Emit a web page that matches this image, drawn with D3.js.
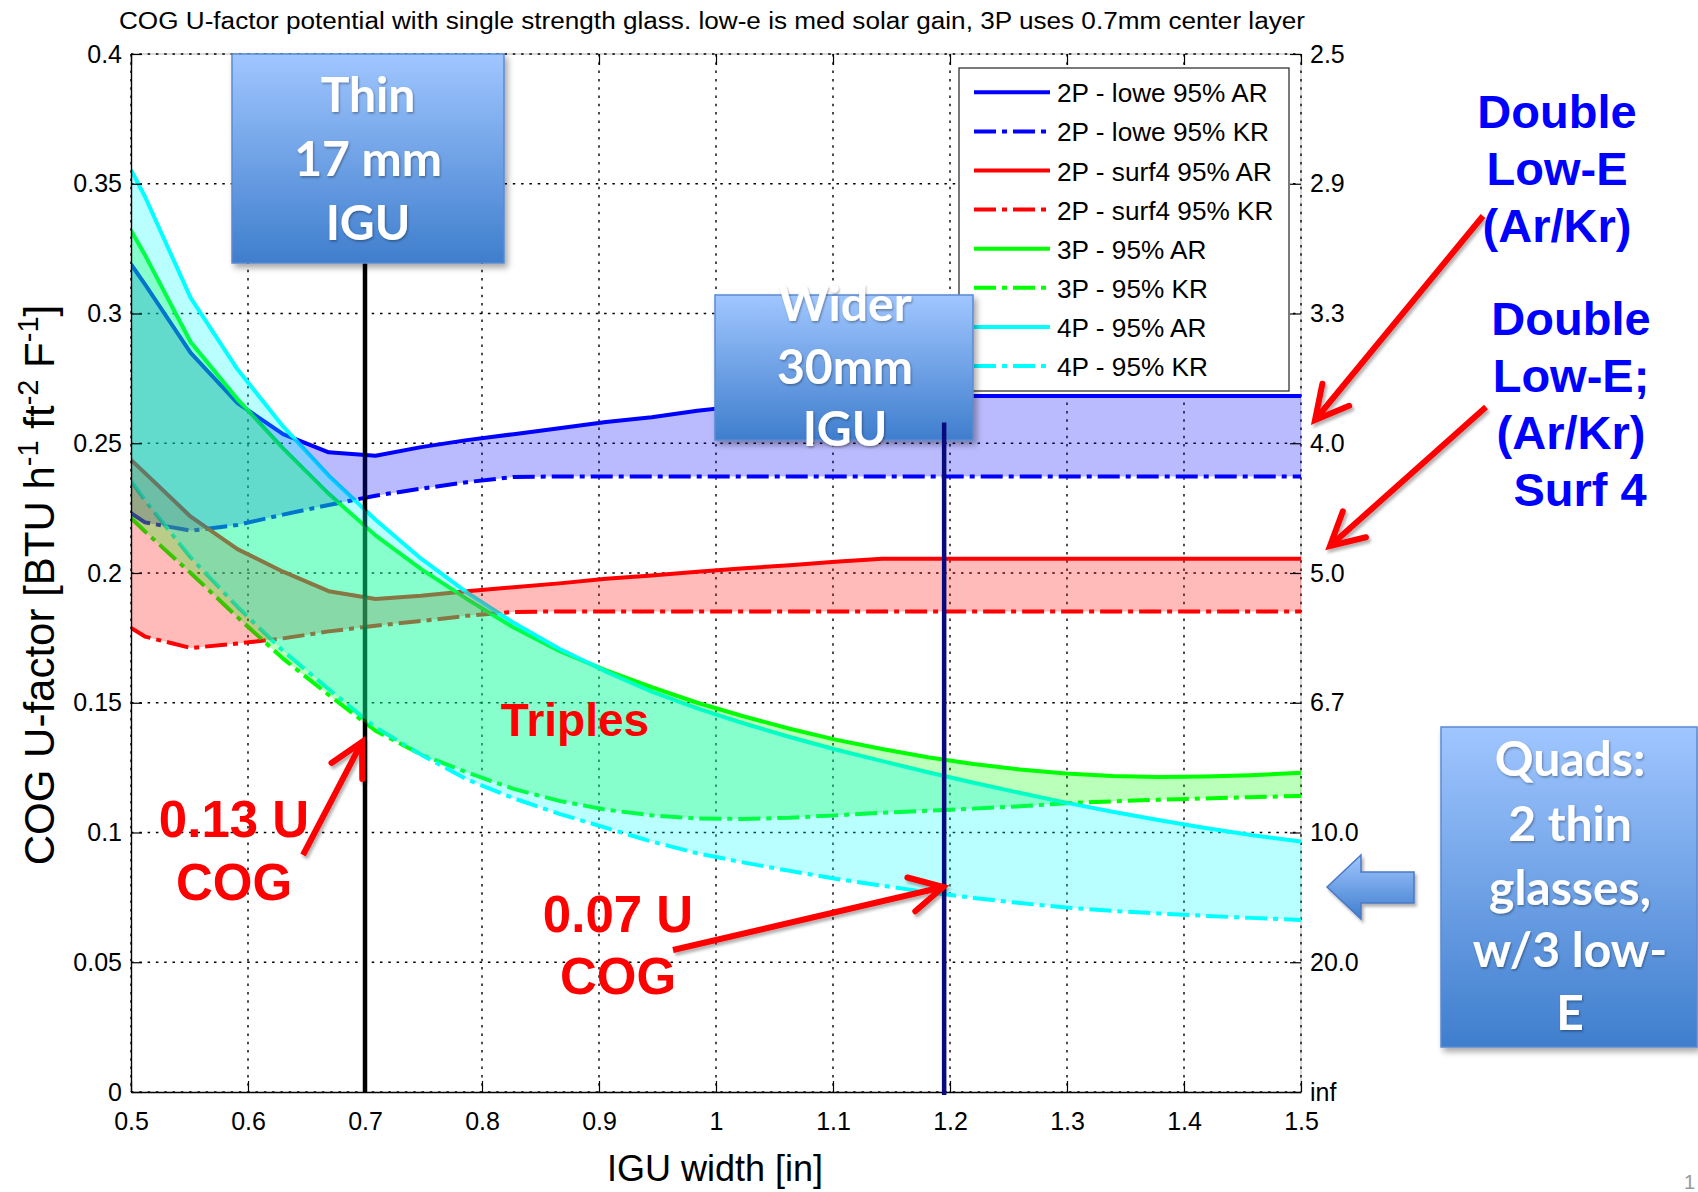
<!DOCTYPE html>
<html>
<head>
<meta charset="utf-8">
<title>COG U-factor vs IGU width</title>
<script src="https://cdn.jsdelivr.net/npm/d3@7/dist/d3.min.js"></script>
<style>
  html, body { margin: 0; padding: 0; background: #fff; }
  svg { display: block; }
</style>
</head>
<body>
<svg id="chart" width="1698" height="1192"></svg>
<script>
// IGU overall width [in] (12.7 mm up to 38.1 mm, ~1 mm steps)
const iguWidth = [0.500, 0.512, 0.551, 0.591, 0.630, 0.669, 0.709, 0.748, 0.787, 0.827, 0.866, 0.906, 0.945,
                  0.984, 1.024, 1.063, 1.102, 1.142, 1.181, 1.220, 1.260, 1.299, 1.339, 1.378, 1.417, 1.457, 1.500];

// Centre-of-glass U-factor [BTU h-1 ft-2 F-1]
const lowe2P_AR  = [0.3190, 0.3112, 0.2848, 0.2655, 0.2535, 0.2465, 0.2452, 0.2485, 0.2512, 0.2535, 0.2558, 0.2582, 0.2600,
                    0.2625, 0.2645, 0.2660, 0.2672, 0.2682, 0.2682, 0.2682, 0.2682, 0.2682, 0.2682, 0.2682, 0.2682, 0.2682, 0.2682];
const lowe2P_KR  = [0.2231, 0.2195, 0.2163, 0.2185, 0.2225, 0.2262, 0.2298, 0.2325, 0.2350, 0.2370, 0.2372, 0.2372, 0.2372,
                    0.2372, 0.2372, 0.2372, 0.2372, 0.2372, 0.2372, 0.2372, 0.2372, 0.2372, 0.2372, 0.2372, 0.2372, 0.2372, 0.2372];
const surf4_2P_AR = [0.2436, 0.2385, 0.2217, 0.2092, 0.2005, 0.1930, 0.1900, 0.1912, 0.1930, 0.1945, 0.1960, 0.1978, 0.1990,
                    0.2005, 0.2018, 0.2030, 0.2043, 0.2055, 0.2055, 0.2055, 0.2055, 0.2055, 0.2055, 0.2055, 0.2055, 0.2055, 0.2055];
const surf4_2P_KR = [0.1788, 0.1755, 0.1711, 0.1728, 0.1748, 0.1775, 0.1797, 0.1815, 0.1835, 0.1850, 0.1852, 0.1852, 0.1852,
                    0.1852, 0.1852, 0.1852, 0.1852, 0.1852, 0.1852, 0.1852, 0.1852, 0.1852, 0.1852, 0.1852, 0.1852, 0.1852, 0.1852];
const triple_AR  = [0.3320, 0.3225, 0.2890, 0.2670, 0.2480, 0.2305, 0.2145, 0.2015, 0.1900, 0.1790, 0.1700, 0.1625, 0.1560,
                    0.1500, 0.1447, 0.1400, 0.1358, 0.1322, 0.1290, 0.1264, 0.1243, 0.1227, 0.1218, 0.1214, 0.1216, 0.1221, 0.1230];
const triple_KR  = [0.2212, 0.2160, 0.2000, 0.1830, 0.1670, 0.1530, 0.1392, 0.1300, 0.1232, 0.1168, 0.1122, 0.1088, 0.1066,
                    0.1054, 0.1052, 0.1057, 0.1066, 0.1076, 0.1084, 0.1092, 0.1101, 0.1113, 0.1120, 0.1126, 0.1131, 0.1136, 0.1141];
const quad_AR    = [0.3553, 0.3450, 0.3060, 0.2785, 0.2565, 0.2375, 0.2205, 0.2055, 0.1925, 0.1808, 0.1708, 0.1620, 0.1543,
                    0.1478, 0.1420, 0.1368, 0.1320, 0.1275, 0.1232, 0.1192, 0.1152, 0.1115, 0.1080, 0.1048, 0.1018, 0.0990, 0.0965];
const quad_KR    = [0.2354, 0.2280, 0.2060, 0.1870, 0.1700, 0.1552, 0.1405, 0.1300, 0.1205, 0.1132, 0.1072, 0.1018, 0.0965,
                    0.0920, 0.0884, 0.0852, 0.0822, 0.0795, 0.0770, 0.0748, 0.0728, 0.0711, 0.0698, 0.0688, 0.0679, 0.0671, 0.0663];

const seriesNames = ["2P - lowe 95% AR", "2P - lowe 95% KR", "2P - surf4 95% AR", "2P - surf4 95% KR",
                     "3P - 95% AR", "3P - 95% KR", "4P - 95% AR", "4P - 95% KR"];

const xTicks      = [0.5, 0.6, 0.7, 0.8, 0.9, 1.0, 1.1, 1.2, 1.3, 1.4, 1.5];
const xTickLabels = ["0.5", "0.6", "0.7", "0.8", "0.9", "1", "1.1", "1.2", "1.3", "1.4", "1.5"];
const yTicks      = [0, 0.05, 0.1, 0.15, 0.2, 0.25, 0.3, 0.35, 0.4];
const yTickLabels = ["0", "0.05", "0.1", "0.15", "0.2", "0.25", "0.3", "0.35", "0.4"];
// matching R-value on the right-hand axis
const rTickLabels = ["inf", "20.0", "10.0", "6.7", "5.0", "4.0", "3.3", "2.9", "2.5"];

// reference widths: thin 17 mm unit and wider 30 mm unit
const thinWidth = 0.7;
const wideWidth = 1.195;
const wideLineTop = 0.258;

const titleText = "COG U-factor potential with single strength glass. low-e is med solar gain, 3P uses 0.7mm center layer";

// ---------------------------------------------------------------------------
const FONT = "'Liberation Sans', Arial, Helvetica, sans-serif";
const BOXFONT = "Lato, 'Open Sans', sans-serif";
const svg = d3.select("#chart");
svg.append("rect").attr("width", 1698).attr("height", 1192).attr("fill", "#fff");

const plot = { left: 131, right: 1301, top: 54, bottom: 1092 };
const x = d3.scaleLinear().domain([0.5, 1.5]).range([plot.left, plot.right]);
const y = d3.scaleLinear().domain([0, 0.4]).range([plot.bottom, plot.top]);

const defs = svg.append("defs");
defs.append("clipPath").attr("id", "plotClip").append("rect")
  .attr("x", plot.left).attr("y", plot.top)
  .attr("width", plot.right - plot.left).attr("height", plot.bottom - plot.top);

const grad = defs.append("linearGradient").attr("id", "boxGrad")
  .attr("x1", 0).attr("y1", 0).attr("x2", 0).attr("y2", 1);
grad.append("stop").attr("offset", "0%").attr("stop-color", "#a0c6ff");
grad.append("stop").attr("offset", "100%").attr("stop-color", "#3f7ecd");

function shadow(id, dx, dy, sd, op) {
  const f = defs.append("filter").attr("id", id)
    .attr("x", "-20%").attr("y", "-20%").attr("width", "150%").attr("height", "150%");
  f.append("feDropShadow").attr("dx", dx).attr("dy", dy).attr("stdDeviation", sd)
    .attr("flood-color", "#000").attr("flood-opacity", op);
}
shadow("boxShadow", 3, 4, 3, 0.35);
shadow("arrowShadow", 2, 3, 1.5, 0.3);
shadow("textShadow", 1, 1.5, 1, 0.35);

// title
svg.append("text")
  .attr("x", 712).attr("y", 29).attr("text-anchor", "middle")
  .attr("font-family", FONT).attr("font-size", 23)
  .attr("textLength", 1186).attr("lengthAdjust", "spacingAndGlyphs")
  .text(titleText);

// grid
svg.append("g").attr("stroke", "#b8b8b8").attr("stroke-width", 1)
  .call(g => {
    g.append("line").attr("x1", plot.left).attr("x2", plot.right).attr("y1", plot.top).attr("y2", plot.top);
    g.append("line").attr("x1", plot.right).attr("x2", plot.right).attr("y1", plot.top).attr("y2", plot.bottom);
  });
const grid = svg.append("g").attr("stroke", "#000").attr("stroke-width", 1.4).attr("stroke-dasharray", "2.5,5.8");
grid.selectAll("line.gv").data(xTicks).join("line").attr("class", "gv")
  .attr("x1", d => x(d)).attr("x2", d => x(d)).attr("y1", plot.top).attr("y2", plot.bottom);
grid.selectAll("line.gh").data(yTicks).join("line").attr("class", "gh")
  .attr("x1", plot.left).attr("x2", plot.right).attr("y1", d => y(d)).attr("y2", d => y(d));

// curves
const series = [
  { values: lowe2P_AR,   color: "#0000ff", dash: false },
  { values: lowe2P_KR,   color: "#0000ff", dash: true  },
  { values: surf4_2P_AR, color: "#ff0000", dash: false },
  { values: surf4_2P_KR, color: "#ff0000", dash: true  },
  { values: triple_AR,   color: "#00ff00", dash: false },
  { values: triple_KR,   color: "#00ff00", dash: true  },
  { values: quad_AR,     color: "#00ffff", dash: false },
  { values: quad_KR,     color: "#00ffff", dash: true  }
];
const DASHDOT = "22,6,5,6";
const line = d3.line().x((d, i) => x(iguWidth[i])).y(d => y(d));

const dataG = svg.append("g").attr("clip-path", "url(#plotClip)");
series.forEach(s => {
  dataG.append("path").attr("d", line(s.values))
    .attr("fill", "none").attr("stroke", s.color).attr("stroke-width", 4)
    .attr("stroke-linejoin", "round")
    .attr("stroke-dasharray", s.dash ? DASHDOT : null);
});

// thin-unit marker line (sits under the translucent bands)
dataG.append("line")
  .attr("x1", x(thinWidth)).attr("x2", x(thinWidth))
  .attr("y1", y(0.4)).attr("y2", y(0))
  .attr("stroke", "#000").attr("stroke-width", 4.5);

// translucent bands between argon and krypton fills
const bands = [
  { ar: lowe2P_AR,   kr: lowe2P_KR,   color: "#0000ff" },
  { ar: surf4_2P_AR, kr: surf4_2P_KR, color: "#ff0000" },
  { ar: triple_AR,   kr: triple_KR,   color: "#00ff00" },
  { ar: quad_AR,     kr: quad_KR,     color: "#00ffff" }
];
bands.forEach(b => {
  const area = d3.area()
    .x((d, i) => x(iguWidth[i]))
    .y0((d, i) => y(b.kr[i]))
    .y1(d => y(d));
  dataG.append("path").attr("d", area(b.ar))
    .attr("fill", b.color).attr("fill-opacity", 0.27).attr("stroke", "none");
});

// axes
function styleAxis(g) {
  g.attr("font-family", FONT).attr("font-size", 25);
  g.selectAll(".tick line").attr("stroke", "#000").attr("stroke-width", 1.2);
  g.selectAll(".tick text").attr("fill", "#000");
}
svg.append("g").attr("transform", `translate(${plot.left},0)`)
  .call(d3.axisLeft(y).tickValues(yTicks).tickFormat((d, i) => yTickLabels[i])
    .tickSizeInner(-11).tickSizeOuter(0).tickPadding(9))
  .call(styleAxis)
  .call(g => g.select(".domain").attr("stroke", "#000").attr("stroke-width", 1.4));
svg.append("g").attr("transform", `translate(${plot.right},0)`)
  .call(d3.axisRight(y).tickValues(yTicks).tickFormat((d, i) => rTickLabels[i])
    .tickSizeInner(-11).tickSizeOuter(0).tickPadding(9))
  .call(styleAxis)
  .call(g => g.select(".domain").remove());
svg.append("g").attr("transform", `translate(0,${plot.bottom})`)
  .call(d3.axisBottom(x).tickValues(xTicks).tickFormat((d, i) => xTickLabels[i])
    .tickSizeInner(-11).tickSizeOuter(0).tickPadding(20))
  .call(styleAxis)
  .call(g => g.select(".domain").attr("stroke", "#000").attr("stroke-width", 1.4));
svg.append("g").attr("transform", `translate(0,${plot.top})`)
  .call(d3.axisTop(x).tickValues(xTicks).tickFormat(() => "")
    .tickSizeInner(-11).tickSizeOuter(0))
  .call(styleAxis)
  .call(g => g.select(".domain").remove());

// axis titles
svg.append("text")
  .attr("x", 715).attr("y", 1181).attr("text-anchor", "middle")
  .attr("font-family", FONT).attr("font-size", 36)
  .text("IGU width [in]");
const yTitle = svg.append("text")
  .attr("transform", "translate(54,585) rotate(-90)")
  .attr("text-anchor", "middle")
  .attr("font-family", FONT).attr("font-size", 42);
yTitle.append("tspan").text("COG U-factor [BTU h");
yTitle.append("tspan").attr("dy", -16).attr("font-size", 29).text("-1");
yTitle.append("tspan").attr("dy", 16).text(" ft");
yTitle.append("tspan").attr("dy", -16).attr("font-size", 29).text("-2");
yTitle.append("tspan").attr("dy", 16).text(" F");
yTitle.append("tspan").attr("dy", -16).attr("font-size", 29).text("-1");
yTitle.append("tspan").attr("dy", 16).text("]");

// legend
const legend = svg.append("g").attr("transform", "translate(959,68)");
legend.append("rect").attr("width", 330).attr("height", 323)
  .attr("fill", "#fff").attr("stroke", "#222").attr("stroke-width", 1.2);
const rows = legend.selectAll("g.row").data(series).join("g").attr("class", "row")
  .attr("transform", (d, i) => `translate(0,${24.3 + i * 39.1})`);
rows.append("line").attr("x1", 15).attr("x2", 91).attr("y1", 0).attr("y2", 0)
  .attr("stroke", d => d.color).attr("stroke-width", 4)
  .attr("stroke-dasharray", d => d.dash ? DASHDOT : null);
rows.append("text").attr("x", 98).attr("y", 10)
  .attr("font-family", FONT).attr("font-size", 26.2)
  .text((d, i) => seriesNames[i]);

// callout boxes
function calloutBox(bx, by, bw, bh, lines, cx, baselines, size) {
  const g = svg.append("g");
  g.append("rect").attr("x", bx).attr("y", by).attr("width", bw).attr("height", bh)
    .attr("fill", "url(#boxGrad)").attr("stroke", "#5a8ad2").attr("stroke-width", 1.5)
    .attr("filter", "url(#boxShadow)");
  g.selectAll("text").data(lines).join("text")
    .attr("x", cx).attr("y", (d, i) => baselines[i]).attr("text-anchor", "middle")
    .attr("font-family", BOXFONT).attr("font-weight", "bold").attr("font-size", size)
    .attr("fill", "#fff").attr("filter", "url(#textShadow)")
    .text(d => d);
  return g;
}
calloutBox(232, 54, 272, 209, ["Thin", "17 mm", "IGU"], 368, [112, 176, 240], 48);
calloutBox(715, 295, 258, 145, ["Wider", "30mm", "IGU"], 845, [321, 384, 446], 48);
calloutBox(1441, 727, 256, 320, ["Quads:", "2 thin", "glasses,", "w/3 low-", "E"], 1570,
  [776, 841, 905, 967, 1030], 48);

// wider-unit marker line
svg.append("line")
  .attr("x1", x(wideWidth)).attr("x2", x(wideWidth))
  .attr("y1", y(wideLineTop)).attr("y2", y(0) + 3)
  .attr("stroke", "#0a0a80").attr("stroke-width", 4.5);

// left-pointing block arrow toward the quad curves
svg.append("path")
  .attr("d", "M1327,887 L1361,855 L1361,872 L1414,872 L1414,903 L1361,903 L1361,919 Z")
  .attr("fill", "url(#boxGrad)").attr("stroke", "#4a78c4").attr("stroke-width", 1.5)
  .attr("filter", "url(#arrowShadow)");

// red arrows with open heads
function redArrow(x1, y1, x2, y2) {
  const ang = Math.atan2(y1 - y2, x1 - x2);
  const len = 37, spread = 28 * Math.PI / 180;
  const a1 = [x2 + len * Math.cos(ang + spread), y2 + len * Math.sin(ang + spread)];
  const a2 = [x2 + len * Math.cos(ang - spread), y2 + len * Math.sin(ang - spread)];
  const g = svg.append("g").attr("filter", "url(#arrowShadow)")
    .attr("stroke", "#ff0000").attr("stroke-width", 6).attr("fill", "none");
  g.append("line").attr("x1", x1).attr("y1", y1).attr("x2", x2).attr("y2", y2).attr("stroke-linecap", "butt");
  g.append("path").attr("d", `M${a1[0]},${a1[1]} L${x2},${y2} L${a2[0]},${a2[1]}`)
    .attr("stroke-linejoin", "miter").attr("stroke-linecap", "round");
}

// text notes
function note(lines, cx, baselines, size, color) {
  svg.append("g").selectAll("text").data(lines).join("text")
    .attr("x", (d, i) => Array.isArray(cx) ? cx[i] : cx)
    .attr("y", (d, i) => baselines[i]).attr("text-anchor", "middle")
    .attr("font-family", FONT).attr("font-weight", "bold").attr("font-size", size)
    .attr("fill", color).text(d => d);
}
note(["Triples"], 575, [736], 46, "#ff0000");
note(["0.13 U", "COG"], 234, [837, 900], 51, "#ff0000");
note(["0.07 U", "COG"], 618, [932, 994], 51, "#ff0000");
redArrow(303, 855, x(thinWidth) - 3, 742);
redArrow(673, 950, x(wideWidth) - 1, 887);

note(["Double", "Low-E", "(Ar/Kr)"], 1557, [128, 185, 242], 47, "#0000ff");
note(["Double", "Low-E;", "(Ar/Kr)", "Surf 4"], [1571, 1571, 1571, 1580], [335, 392, 449, 506], 47, "#0000ff");
redArrow(1483, 216, 1315, 420);
redArrow(1486, 407, 1330, 546);

// slide number in the bottom-right corner
svg.append("text").attr("x", 1684).attr("y", 1189)
  .attr("font-family", FONT).attr("font-size", 20).attr("fill", "#9a9a9a").text("1");
</script>
</body>
</html>
